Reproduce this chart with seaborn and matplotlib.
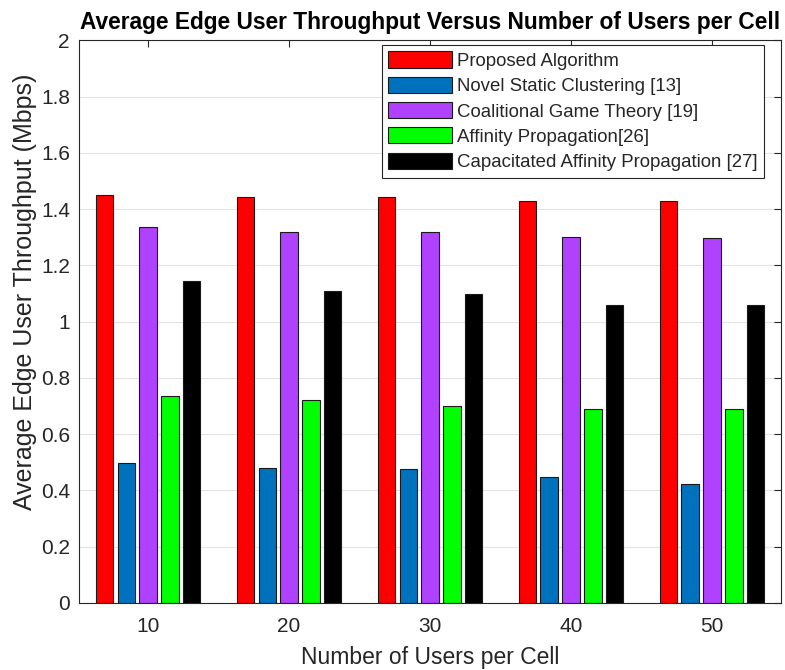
import matplotlib
matplotlib.use("Agg")
import matplotlib.pyplot as plt
import seaborn as sns
import pandas as pd
from matplotlib.ticker import FormatStrFormatter, FixedLocator

# Users per cell (x categories)
users_per_cell = ["10", "20", "30", "40", "50"]

# Average edge user throughput (Mbps) for each scheme
proposed = [1.449, 1.443, 1.443, 1.428, 1.428]
static_clustering = [0.496, 0.481, 0.477, 0.448, 0.422]
coalitional_game = [1.336, 1.320, 1.320, 1.303, 1.299]
affinity_prop = [0.736, 0.720, 0.702, 0.688, 0.688]
capacitated_ap = [1.144, 1.111, 1.097, 1.059, 1.059]

schemes = [
    "Proposed Algorithm",
    "Novel Static Clustering [13]",
    "Coalitional Game Theory [19]",
    "Affinity Propagation[26]",
    "Capacitated Affinity Propagation [27]",
]
series = [proposed, static_clustering, coalitional_game, affinity_prop, capacitated_ap]
colors = ["#FF0000", "#0072BD", "#B041FF", "#00FF00", "#000000"]

df = pd.DataFrame(
    [(u, s, v) for s, vals in zip(schemes, series) for u, v in zip(users_per_cell, vals)],
    columns=["users", "scheme", "throughput"],
)

sns.set_style("white")
plt.rcParams["font.family"] = ["Liberation Sans", "DejaVu Sans"]
axis_gray = "#262626"

fig = plt.figure(figsize=(7.85, 6.7), dpi=100)
ax = fig.add_axes([0.1006, 0.1, 0.8944, 0.8396])
ax.set_axisbelow(True)
ax.grid(True, color="#E3E3E3", linewidth=0.8)

sns.barplot(
    data=df, x="users", y="throughput", hue="scheme",
    order=users_per_cell, hue_order=schemes, palette=colors,
    width=0.773, gap=0.2, edgecolor="#1a1a1a", linewidth=0.8,
    saturation=1, errorbar=None, ax=ax,
)

ax.set_xlim(-0.49, 4.49)
ax.set_ylim(0, 2)
ax.yaxis.set_major_locator(FixedLocator([i * 0.2 for i in range(11)]))
ax.yaxis.set_major_formatter(FormatStrFormatter("%g"))

for side in ax.spines.values():
    side.set_color(axis_gray)
    side.set_linewidth(0.8)
    side.set_visible(True)

ax.tick_params(axis="both", which="major", direction="in", length=5, width=0.8,
               color=axis_gray, labelcolor=axis_gray, labelsize=15,
               top=True, right=True)
ax.tick_params(axis="x", pad=10)
ax.tick_params(axis="y", pad=6.5)

ax.set_xlabel("Number of Users per Cell", fontsize=16.5, color=axis_gray, labelpad=7)
ax.set_ylabel("Average Edge User Throughput (Mbps)", fontsize=18, color=axis_gray)
ax.yaxis.set_label_coords(-0.06, 0.553)
ax.set_title("Average Edge User Throughput Versus Number of Users per Cell",
             fontsize=16.4, fontweight="bold", color="black", pad=8)

leg = ax.legend(
    loc="upper right", bbox_to_anchor=(0.976, 0.992), borderaxespad=0,
    fontsize=13.4, frameon=True, fancybox=False, framealpha=1,
    handlelength=3.45, handleheight=0.95, handletextpad=0.25,
    labelspacing=0.37, borderpad=0.35, title=None,
)
leg.get_frame().set_edgecolor(axis_gray)
leg.get_frame().set_linewidth(0.8)
for t in leg.get_texts():
    t.set_color(axis_gray)

fig.savefig("out.png", dpi=100)
